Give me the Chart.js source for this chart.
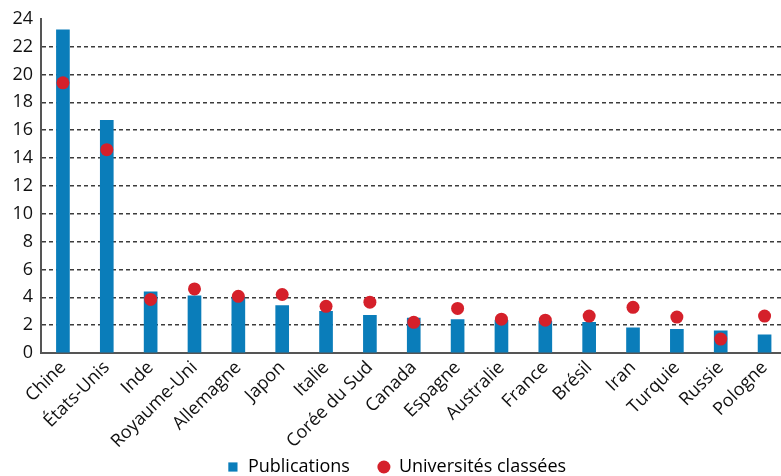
<!DOCTYPE html>
<html>
<head>
<meta charset="utf-8">
<script src="https://cdn.jsdelivr.net/npm/chart.js@4"></script>
<style>
  html, body { margin: 0; padding: 0; background: #fff; overflow: hidden; }
  #wrap { width: 793px; height: 476px; }
</style>
</head>
<body>
<div id="wrap"><canvas id="c" width="793" height="476"></canvas></div>
<script>
// Parts mondiales (en %) par pays
const pays = ["Chine", "États-Unis", "Inde", "Royaume-Uni", "Allemagne", "Japon", "Italie",
  "Corée du Sud", "Canada", "Espagne", "Australie", "France", "Brésil", "Iran", "Turquie",
  "Russie", "Pologne"];
const publications = [23.2, 16.7, 4.4, 4.1, 4.0, 3.4, 3.0, 2.7, 2.5, 2.4, 2.35, 2.27, 2.2, 1.8, 1.7, 1.6, 1.3];
const universitesClassees = [19.4, 14.6, 3.85, 4.6, 4.07, 4.2, 3.35, 3.65, 2.2, 3.2, 2.43, 2.36, 2.65, 3.28, 2.58, 1.0, 2.65];
const graduationsY = [0, 2, 4, 6, 8, 10, 12, 14, 16, 18, 20, 22, 24];

const police = "'Open Sans', 'DejaVu Sans', sans-serif";
const bleu = "#0a7dba";
const rouge = "#d5202a";

new Chart(document.getElementById("c"), {
  data: {
    labels: pays,
    datasets: [
      {
        type: "line",
        label: "Universités classées",
        data: universitesClassees,
        showLine: false,
        pointRadius: 6.5,
        pointHoverRadius: 6.5,
        pointBackgroundColor: rouge,
        pointBorderColor: rouge,
        pointBorderWidth: 0,
        backgroundColor: rouge,
        borderColor: rouge,
        order: 0
      },
      {
        type: "bar",
        label: "Publications",
        data: publications,
        backgroundColor: bleu,
        borderWidth: 0,
        barThickness: 13,
        order: 1
      }
    ]
  },
  options: {
    responsive: false,
    animation: false,
    layout: { padding: { top: 11, left: 0, right: 0, bottom: -10 } },
    plugins: {
      tooltip: { enabled: false },
      legend: {
        position: "bottom",
        reverse: true,
        labels: {
          font: { family: police, size: 18 },
          color: "#111",
          padding: 28,
          usePointStyle: true,
          boxHeight: 9.2,
          boxWidth: 12,
          generateLabels(chart) {
            return chart.data.datasets.map((ds, i) => ({
              text: ds.label,
              fillStyle: ds.type === "bar" ? bleu : rouge,
              strokeStyle: ds.type === "bar" ? bleu : rouge,
              lineWidth: 0,
              pointStyle: ds.type === "bar" ? "rect" : "circle",
              datasetIndex: i,
              hidden: false
            }));
          }
        }
      }
    },
    scales: {
      x: {
        offset: true,
        grid: { display: false, drawTicks: false },
        border: { color: "#555", width: 2 },
        ticks: {
          font: { family: police, size: 18 },
          color: "#111",
          maxRotation: 45,
          minRotation: 45,
          autoSkip: false,
          padding: 4
        },
        afterFit(scale) {
          scale.height = 77;
          // les libellés inclinés débordent sous l'axe : pas de découpe
          scale._computeLabelArea = () => undefined;
        }
      },
      y: {
        min: 0,
        max: 24,
        afterBuildTicks(scale) { scale.ticks = graduationsY.map(v => ({ value: v })); },
        grid: {
          color: (ctx) => (ctx.tick && (ctx.tick.value === 0 || ctx.tick.value === 24)) ? "rgba(0,0,0,0)" : "#3c3c3c",
          lineWidth: 1.5,
          drawTicks: false
        },
        border: { color: "#555", width: 2, dash: [4, 3] },
        ticks: {
          font: { family: police, size: 18 },
          color: "#111",
          padding: 8
        },
        afterFit(scale) { scale.width = 41; }
      }
    }
  }
});
</script>
</body>
</html>
